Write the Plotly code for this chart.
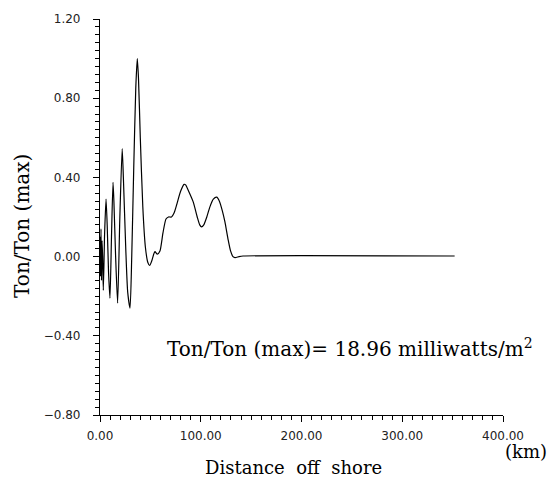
import plotly.graph_objects as go

# Distance off shore (km) and normalized Ton/Ton(max)
distance_km = [
    0, 0.5, 1.0, 1.5, 2.0, 2.6, 3.3, 4.6, 6.0, 7.2, 8.5, 9.9, 11.4, 12.9, 13.8,
    15.5, 17.5, 19.7, 22.0, 23.2, 25.5, 27.5, 29.8, 31.5, 33.5, 35.5, 37.0, 38.2,
    40.0, 42.5, 45.0, 47.5, 49.3, 51.5, 53.5, 54.6, 56.9, 59.5, 62.5, 65.5, 68.0,
    71.0, 73.5, 76.0, 80.0, 83.5, 85.0, 88.0, 92.6, 96.5, 99.0, 100.8, 103.0,
    106.0, 109.0, 112.5, 115.8, 118.5, 121.5, 124.0, 127.0, 129.5, 132.0, 134.0,
    138.0, 142.0, 352.0,
]
ton_ratio = [
    0.10, -0.10, 0.14, -0.12, 0.08, 0.0, -0.17, 0.12, 0.29, 0.15, -0.08, -0.21,
    0.10, 0.375, 0.28, 0.0, -0.235, 0.20, 0.545, 0.40, 0.05, -0.18, -0.26, 0.0,
    0.45, 0.85, 1.0, 0.90, 0.60, 0.25, 0.05, -0.03, -0.045, -0.02, 0.015, 0.025,
    0.012, 0.028, 0.12, 0.19, 0.20, 0.20, 0.22, 0.26, 0.33, 0.365, 0.362, 0.33,
    0.275, 0.20, 0.16, 0.15, 0.16, 0.20, 0.25, 0.29, 0.30, 0.28, 0.23, 0.175,
    0.09, 0.03, 0.0, -0.005, 0.0, 0.003, 0.003,
]

x_ticks = [0, 100, 200, 300, 400]
y_ticks = [-0.8, -0.4, 0.0, 0.4, 0.8, 1.2]

serif = "DejaVu Serif"
sans = "DejaVu Sans"

fig = go.Figure()
fig.add_trace(go.Scatter(
    x=distance_km, y=ton_ratio, mode="lines",
    line=dict(color="black", width=1.2, shape="spline", smoothing=0.6),
    showlegend=False, hoverinfo="skip",
))

axis_common = dict(
    showgrid=False, zeroline=False, showline=True, linecolor="black", linewidth=1.2,
    ticks="outside", ticklen=6, tickwidth=1.2, tickcolor="black",
    tickfont=dict(family=sans, size=12, color="#222"),
    tickformat=".2f",
)

fig.update_xaxes(range=[0, 400], tickvals=x_ticks, ticklabelstandoff=3,
                 minor=dict(dtick=10, ticks="outside", ticklen=4, tickcolor="black", tickwidth=1),
                 **axis_common)
fig.update_yaxes(range=[-0.8, 1.2], tickvals=y_ticks, ticklabelstandoff=10,
                 minor=dict(dtick=0.04, tick0=0, ticks="outside", ticklen=4, tickcolor="black", tickwidth=1),
                 **axis_common)

annotations = [
    dict(text="Ton/Ton (max)", x=-0.1935, y=0.4775, xref="paper", yref="paper",
         xanchor="center", yanchor="middle",
         textangle=-90, showarrow=False, font=dict(family=serif, size=20, color="black")),
    dict(text="Distance  off  shore", x=0.481, y=-0.1325, xref="paper", yref="paper",
         xanchor="center", yanchor="middle",
         showarrow=False, font=dict(family=serif, size=18, color="black")),
    dict(text="(km)", x=1.057, y=-0.0925, xref="paper", yref="paper",
         xanchor="center", yanchor="middle",
         showarrow=False, font=dict(family=serif, size=18, color="black")),
    dict(text="Ton/Ton (max)= 18.96 milliwatts/m<sup>2</sup>", x=0.161, y=0.17,
         xref="paper", yref="paper", xanchor="left", yanchor="middle", showarrow=False,
         font=dict(family=serif, size=20, color="black")),
]

fig.update_layout(
    width=551, height=490,
    margin=dict(l=100, r=48, t=15, b=75),
    paper_bgcolor="white", plot_bgcolor="white",
    annotations=annotations,
)

fig.write_html("out.html")
